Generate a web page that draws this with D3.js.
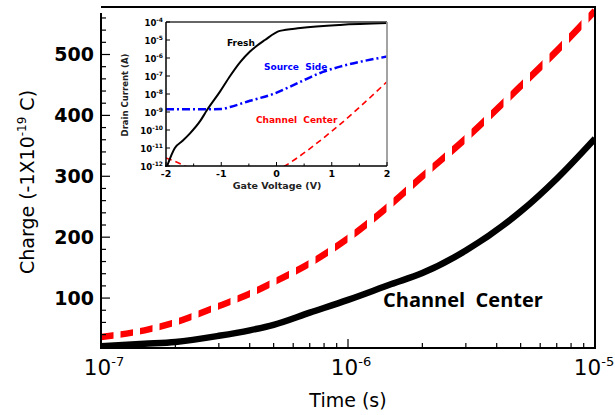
<!DOCTYPE html>
<html><head><meta charset="utf-8">
<script src="https://cdn.jsdelivr.net/npm/d3@7"></script>
<style>body{margin:0;background:#fff}svg{display:block}</style>
</head><body><svg id="c" width="615" height="415"></svg>
<script>
// ---------- main chart data ----------
const timeS = [1e-7,1.5e-7,2e-7,3e-7,4e-7,5e-7,7e-7,1e-6,1.5e-6,2e-6,3e-6,5e-6,7e-6,1e-5];
const chargeBlack = [21,25,28,38,47,56,76,97,123,141,178,242,296,362];
const chargeRed   = [36,47,60,87,107,126,157,198,255,300,362,448,506,572];
const xTickExps = [-7,-6,-5];
const yTickLabels = [100,200,300,400,500];
const mainLabel = "Channel  Center";
// ---------- inset data ----------
const vFresh = [-1.98,-1.84,-1.7,-1.57,-1.38,-1.26,-1.02,-0.84,-0.65,-0.48,-0.21,0.06,0.43,1.15,2];
const iFresh = [1e-12,1e-11,2.5e-11,6.3e-11,3.2e-10,1.25e-9,1.4e-8,1e-7,6.3e-7,2.3e-6,1e-5,3.2e-5,4.6e-5,6.9e-5,8.7e-5];
const vSource = [-2,-1.5,-1,-0.84,-0.48,-0.06,0.24,0.55,0.84,1.15,2];
const iSource = [1.4e-9,1.4e-9,1.45e-9,1.9e-9,4.2e-9,1e-8,2.5e-8,7e-8,1.7e-7,3.3e-7,1.2e-6];
const vCenter = [-2,-1.66,-1.2,-0.5,0.15,1,2];
const iCenter = [2.8e-12,1e-12,1e-13,1e-13,1e-12,8.5e-11,4.8e-8];
const insetXTicks = [-2,-1,0,1,2];
const insetYExps = [-12,-11,-10,-9,-8,-7,-6,-5,-4];

const svg = d3.select("#c");
const F = "'DejaVu Sans', Verdana, sans-serif";
const L = 101, R = 595, T = 7, B = 348;
const x = d3.scaleLog().domain([1e-7,1e-5]).range([L,R]);
const y = d3.scaleLinear().domain([18,578]).range([B,T]);

const defs = svg.append("defs");
defs.append("clipPath").attr("id","plot").append("rect")
  .attr("x",L).attr("y",T).attr("width",R-L).attr("height",B-T);
const stripes = defs.append("clipPath").attr("id","stripes");
for (let sx = L; sx < R; sx += 19.5) {
  stripes.append("rect").attr("x",sx).attr("y",T).attr("width",12.5).attr("height",B-T);
}

const line = d3.line().x(d=>x(d[0])).y(d=>y(d[1])).curve(d3.curveMonotoneX);

// red dashed
svg.append("g").attr("clip-path","url(#plot)").append("g").attr("clip-path","url(#stripes)")
  .append("path").datum(timeS.map((t,i)=>[t,chargeRed[i]]))
  .attr("d",line).attr("fill","none").attr("stroke","#ff0000").attr("stroke-width",6.5);
// black solid
svg.append("g").attr("clip-path","url(#plot)")
  .append("path").datum(timeS.map((t,i)=>[t,chargeBlack[i]]))
  .attr("d",line).attr("fill","none").attr("stroke","#000").attr("stroke-width",6.5);

// frame
const fr = svg.append("g").attr("stroke","#000").attr("stroke-width",2).attr("fill","none");
fr.append("line").attr("x1",L).attr("x2",R+1).attr("y1",T).attr("y2",T);
fr.append("line").attr("x1",L).attr("x2",L).attr("y1",T+6).attr("y2",B+1);
fr.append("line").attr("x1",L-1).attr("x2",R+1).attr("y1",B).attr("y2",B);
fr.append("line").attr("x1",R).attr("x2",R).attr("y1",T).attr("y2",B+1);

// x ticks
const tk = svg.append("g").attr("stroke","#000").attr("stroke-width",1.2);
x.ticks().forEach(t=>{
  const major = Math.abs(Math.log10(t)-Math.round(Math.log10(t)))<1e-9;
  tk.append("line").attr("x1",x(t)).attr("x2",x(t)).attr("y1",B).attr("y2",B-(major?9:5));
});
// y ticks
d3.range(20,578,20).forEach(v=>{
  const major = v%100===0;
  tk.append("line").attr("x1",L).attr("x2",L+(major?9:5)).attr("y1",y(v)).attr("y2",y(v));
});

// x tick labels
xTickExps.forEach(e=>{
  const px = Math.min(x(Math.pow(10,e))+3, 594);
  const t = svg.append("text").attr("x",px).attr("y",375)
    .attr("text-anchor","middle").attr("font-family",F).attr("font-size",21.5).attr("fill","#000");
  t.append("tspan").text("10");
  t.append("tspan").attr("font-size",13).attr("dy",-9).text(e);
});
// y tick labels
yTickLabels.forEach(v=>{
  svg.append("text").attr("x",94).attr("y",y(v)+7).attr("text-anchor","end")
    .attr("font-family",F).attr("font-weight","bold").attr("font-size",19).attr("fill","#000").text(v);
});
// axis titles
svg.append("text").attr("x",348).attr("y",407).attr("text-anchor","middle")
  .attr("font-family",F).attr("font-size",19).attr("fill","#000").text("Time (s)");
const yt = svg.append("text").attr("transform","translate(34,182) rotate(-90)").attr("text-anchor","middle")
  .attr("font-family",F).attr("font-size",19).attr("fill","#000");
yt.append("tspan").text("Charge (-1X10");
yt.append("tspan").attr("font-size",12).attr("dy",-8).text("-19");
yt.append("tspan").attr("dy",8).text(" C)");

svg.append("text").attr("x",383).attr("y",307).attr("font-family","'Open Sans', sans-serif")
  .attr("font-weight","bold").attr("font-size",20).attr("fill","#000")
  .style("white-space","pre").text(mainLabel);

// ---------- inset ----------
const ix = d3.scaleLinear().domain([-2,2]).range([166,387]);
const iy = d3.scaleLog().domain([1e-12,1e-4]).range([166,22]);
defs.append("clipPath").attr("id","inset").append("rect")
  .attr("x",166).attr("y",22).attr("width",221).attr("height",144);
const iline = d3.line().x(d=>ix(d[0])).y(d=>iy(d[1])).curve(d3.curveMonotoneX);
const ig = svg.append("g").attr("clip-path","url(#inset)");
ig.append("path").datum(vCenter.map((v,i)=>[v,iCenter[i]])).attr("d",iline)
  .attr("fill","none").attr("stroke","#ff0000").attr("stroke-width",1.6).attr("stroke-dasharray","6,4");
ig.append("path").datum(vSource.map((v,i)=>[v,iSource[i]])).attr("d",iline)
  .attr("fill","none").attr("stroke","#0000ff").attr("stroke-width",2.5).attr("stroke-dasharray","8,3,2,3");
ig.append("path").datum(vFresh.map((v,i)=>[v,iFresh[i]])).attr("d",iline)
  .attr("fill","none").attr("stroke","#000").attr("stroke-width",2);

const ifr = svg.append("g").attr("fill","none");
ifr.append("line").attr("x1",166).attr("x2",387).attr("y1",22).attr("y2",22).attr("stroke","#333").attr("stroke-width",1.3);
ifr.append("line").attr("x1",387).attr("x2",387).attr("y1",22).attr("y2",166).attr("stroke","#999").attr("stroke-width",1.8);
ifr.append("line").attr("x1",166).attr("x2",166).attr("y1",22).attr("y2",167).attr("stroke","#000").attr("stroke-width",1.5);
ifr.append("line").attr("x1",165).attr("x2",387).attr("y1",166).attr("y2",166).attr("stroke","#000").attr("stroke-width",1.5);
insetYExps.forEach(e=>{
  ifr.append("line").attr("x1",166).attr("x2",170).attr("y1",iy(Math.pow(10,e))).attr("y2",iy(Math.pow(10,e))).attr("stroke","#000");
  const t = svg.append("text").attr("x",163).attr("y",iy(Math.pow(10,e))+3.5).attr("text-anchor","end")
    .attr("font-family",F).attr("font-weight","bold").attr("font-size",8.5).attr("fill","#000");
  t.append("tspan").text("10");
  t.append("tspan").attr("font-size",6).attr("dy",-4).text(e);
});
d3.range(-2,2.01,0.5).forEach(v=>{
  const major = Math.abs(v-Math.round(v))<1e-9;
  ifr.append("line").attr("x1",ix(v)).attr("x2",ix(v)).attr("y1",166).attr("y2",166-(major?4:2.5)).attr("stroke","#000");
});
insetXTicks.forEach(v=>{
  svg.append("text").attr("x",ix(v)).attr("y",177).attr("text-anchor","middle")
    .attr("font-family",F).attr("font-weight","bold").attr("font-size",9.5).attr("fill","#000").text(v);
});
svg.append("text").attr("x",277).attr("y",189).attr("text-anchor","middle")
  .attr("font-family",F).attr("font-weight","bold").attr("font-size",9.5).attr("fill","#222").text("Gate Voltage (V)");
svg.append("text").attr("transform","translate(128,95) rotate(-90)").attr("text-anchor","middle")
  .attr("font-family",F).attr("font-weight","bold").attr("font-size",8.5).attr("fill","#222").text("Drain Current (A)");
svg.append("text").attr("x",227).attr("y",46).attr("font-family",F).attr("font-weight","bold")
  .attr("font-size",9).attr("fill","#000").text("Fresh");
svg.append("text").attr("x",264).attr("y",70).attr("font-family",F).attr("font-weight","bold")
  .attr("font-size",9).attr("fill","#0000ff").style("white-space","pre").text("Source  Side");
svg.append("text").attr("x",256).attr("y",123).attr("font-family",F).attr("font-weight","bold")
  .attr("font-size",9).attr("fill","#ff0000").style("white-space","pre").text("Channel  Center");
</script></body></html>
